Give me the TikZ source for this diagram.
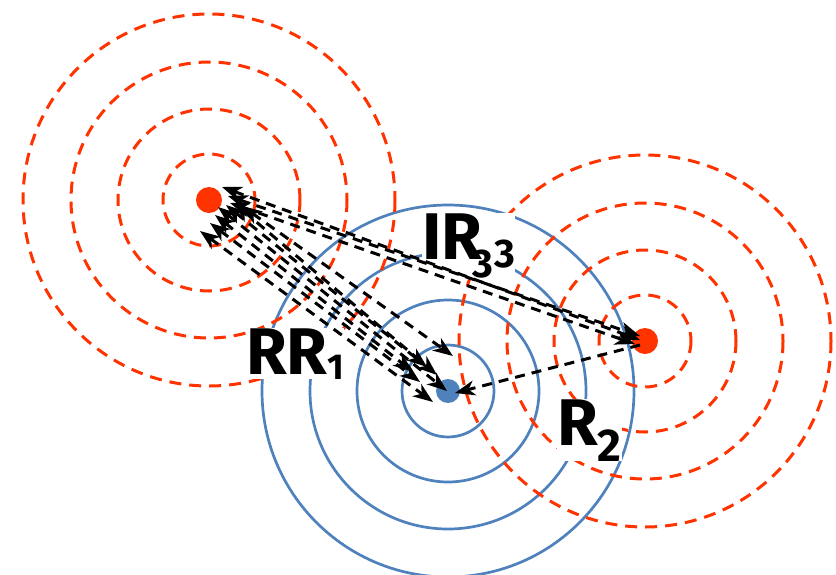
\documentclass[tikz,border=0pt]{standalone}
\usepackage{fontspec}
\setmainfont{Fira Sans}
\usetikzlibrary{arrows.meta}
\definecolor{rd}{HTML}{FF3300}
\definecolor{bl}{HTML}{4F81BD}
\begin{document}
\begin{tikzpicture}[x=1pt,y=-1pt,
  redring/.style={draw=rd, line width=3pt, dash pattern=on 12pt off 8pt},
  bluering/.style={draw=bl, line width=2.7pt},
  reddot/.style={circle, fill=rd, minimum size=26pt, inner sep=0pt},
  bluedot/.style={circle, fill=bl, minimum size=24pt, inner sep=0pt},
  link/.style={black, line width=3pt, dash pattern=on 10pt off 7pt, {Stealth[length=20pt,width=15pt,inset=6pt]}-{Stealth[length=20pt,width=15pt,inset=6pt]}},
  onelink/.style={black, line width=3pt, dash pattern=on 10pt off 7pt, -{Stealth[length=20pt,width=15pt,inset=6pt]}},
  lbl/.style={fill=white, inner sep=0pt, anchor=base west, font=\bfseries\fontsize{66}{66}\selectfont}]
\useasboundingbox (0,0) rectangle (836,574);
% sources
\node[reddot] (L) at (209,200) {};
\node[reddot] (R) at (645,341) {};
\node[bluedot] (B) at (448,391) {};
% rings
\foreach \r in {46,91,138,186} {
  \draw[bluering] (B.center) circle[radius=\r];
}
\foreach \r in {46,91,138,186} {
  \draw[redring] (L.center) circle[radius=\r];
  \draw[redring] (R.center) circle[radius=\r];
}
% labels
\node[lbl] (r1) at (246,374) {RR\raisebox{-5pt}{\fontsize{36}{36}\selectfont 1}};
\node[lbl] (r3) at (422,259) {IR\hspace{-10pt}\raisebox{-18pt}{\fontsize{40}{40}\selectfont 3}\hspace{1pt}\raisebox{-8pt}{\fontsize{40}{40}\selectfont 3}};
\node[lbl] (r2) at (557,445) {R\raisebox{-16pt}{\fontsize{46}{46}\selectfont 2}};
% links left <-> blue
\draw[link] ([shift={(-9,31)}]L.center) -- ([shift={(-15,11)}]B.center);
\draw[link] ([shift={(1,23)}]L.center) -- ([shift={(-28,-9)}]B.center);
\draw[link] ([shift={(6,15)}]L.center) -- ([shift={(-35,-19)}]B.center);
\draw[link] ([shift={(9,7)}]L.center) -- ([shift={(-1,0)}]B.center);
\draw[link] ([shift={(17,5)}]L.center) -- ([shift={(-21,-24)}]B.center);
\draw[link] ([shift={(25,3)}]L.center) -- ([shift={(-11,-16)}]B.center);
\draw[link] ([shift={(33,6)}]L.center) -- ([shift={(5,-35)}]B.center);
% links left <-> right
\draw[link] ([shift={(13,-13)}]L.center) -- ([shift={(-5,-1)}]R.center);
\draw[link] ([shift={(21,3)}]L.center) -- ([shift={(-10,3)}]R.center);
\draw[link] ([shift={(19,-4)}]L.center) -- ([shift={(-5,-5)}]R.center);
% right -> blue
\draw[onelink] ([shift={(-5,4)}]R.center) -- ([shift={(7,2)}]B.center);
\end{tikzpicture}
\end{document}
